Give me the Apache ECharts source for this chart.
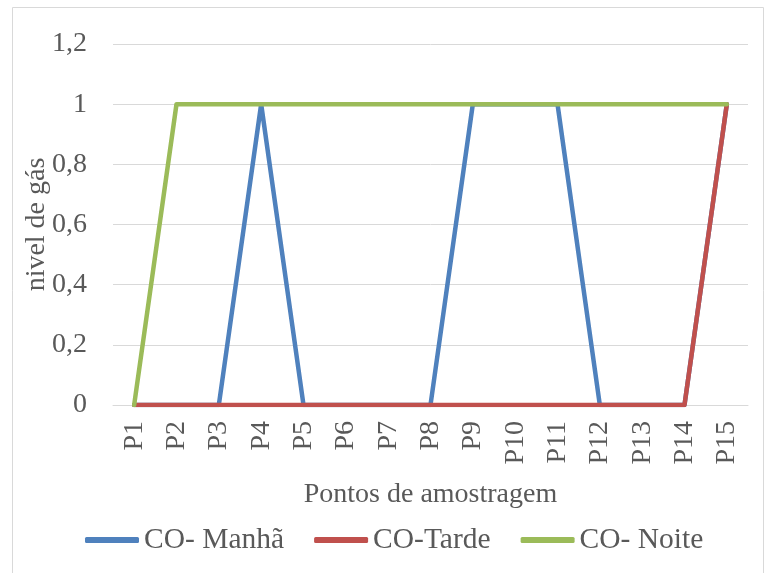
<!DOCTYPE html>
<html>
<head>
<meta charset="utf-8">
<script src="https://cdn.jsdelivr.net/npm/echarts@6/dist/echarts.min.js"></script>
<style>
  html, body { margin: 0; padding: 0; background: #fff; }
  #chart { width: 772px; height: 573px; }
</style>
</head>
<body>
<div id="chart"></div>
<script>
// pontos de amostragem
const categories = ["P1", "P2", "P3", "P4", "P5", "P6", "P7", "P8", "P9", "P10", "P11", "P12", "P13", "P14", "P15"];
// nivel de gás por período
const manha = [0, 0, 0, 1, 0, 0, 0, 0, 1, 1, 1, 0, 0, 0, 1];
const tarde = [0, 0, 0, 0, 0, 0, 0, 0, 0, 0, 0, 0, 0, 0, 1];
const noite = [0, 1, 1, 1, 1, 1, 1, 1, 1, 1, 1, 1, 1, 1, 1];
const seriesNames = ["CO- Manhã", "CO-Tarde", "CO- Noite"];
const colors = ["#4F81BD", "#C0504D", "#9BBB59"];

const font = "'Liberation Serif', 'Times New Roman', serif";
const textColor = "#595959";
const fontSize = 28;

const myChart = echarts.init(document.getElementById("chart"));

const option = {
  animation: false,
  textStyle: { fontFamily: font },
  graphic: [
    {
      type: "rect",
      shape: { x: 12.5, y: 7.5, width: 751, height: 600 },
      style: { fill: "none", stroke: "#D9D9D9", lineWidth: 1 },
      z: -1,
    },
  ],
  grid: {
    left: 113,
    right: 24,
    top: 44,
    bottom: 168,
  },
  legend: {
    left: 80,
    top: 520,
    icon: "roundRect",
    itemWidth: 54,
    itemHeight: 6,
    itemGap: 30,
    textStyle: {
      fontFamily: font,
      fontSize: 29.5,
      color: textColor,
    },
    data: seriesNames,
  },
  xAxis: {
    type: "category",
    data: categories,
    boundaryGap: true,
    name: "Pontos de amostragem",
    nameLocation: "middle",
    nameGap: 76,
    nameMoveOverlap: false,
    nameTextStyle: { fontFamily: font, fontSize: fontSize, color: textColor },
    axisLine: { lineStyle: { color: "#D9D9D9", width: 1 } },
    axisTick: { show: false },
    axisLabel: {
      rotate: 90,
      margin: 16,
      fontFamily: font,
      fontSize: fontSize,
      color: textColor,
    },
  },
  yAxis: {
    type: "value",
    min: 0,
    max: 1.2,
    interval: 0.2,
    name: "nivel de gás",
    nameLocation: "middle",
    nameGap: 62,
    nameMoveOverlap: false,
    nameTextStyle: { fontFamily: font, fontSize: fontSize, color: textColor },
    axisLine: { show: false },
    axisTick: { show: false },
    splitLine: { lineStyle: { color: "#D9D9D9", width: 1 } },
    axisLabel: {
      margin: 26,
      fontFamily: font,
      fontSize: fontSize,
      color: textColor,
      formatter: (v) => String(Math.round(v * 10) / 10).replace(".", ","),
    },
  },
  series: [manha, tarde, noite].map((data, i) => ({
    name: seriesNames[i],
    type: "line",
    data: data,
    symbol: "none",
    color: colors[i],
    lineStyle: { width: 4.5, color: colors[i], cap: "round", join: "round" },
  })),
};

myChart.setOption(option);
</script>
</body>
</html>
